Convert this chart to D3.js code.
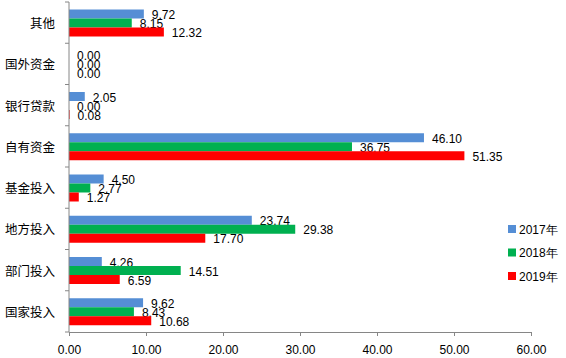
<!DOCTYPE html>
<html><head><meta charset="utf-8">
<script src="https://cdn.jsdelivr.net/npm/d3@7"></script>
<style>body{margin:0;background:#fff}svg{display:block}</style>
</head><body>
<script>
const categories = ["其他","国外资金","银行贷款","自有资金","基金投入","地方投入","部门投入","国家投入"];
const seriesNames = ["2017年","2018年","2019年"];
const values2017 = [9.72,0.00,2.05,46.10,4.50,23.74,4.26,9.62];
const values2018 = [8.15,0.00,0.00,36.75,2.77,29.38,14.51,8.43];
const values2019 = [12.32,0.00,0.08,51.35,1.27,17.70,6.59,10.68];
const xTicks = [0,10,20,30,40,50,60];
const colors = ["#558ED5","#00B050","#FF0000"];

const seriesValues = [values2017, values2018, values2019];
const W = 566, H = 358;
const svg = d3.select("body").append("svg").attr("width", W).attr("height", H);

const x = d3.scaleLinear().domain([0,60]).range([69,531]);
const y = d3.scaleBand().domain(categories).range([2,332]).paddingInner(0).paddingOuter(0);
const yi = d3.scaleBand().domain(seriesNames).range([7.5,34.5]);

const font = "'Liberation Sans', Arial, sans-serif";
const cjk = "'Noto Sans CJK SC', sans-serif";

const groups = svg.append("g").selectAll("g").data(categories).join("g")
  .attr("transform", d => `translate(0,${y(d)})`);

groups.each(function(cat, ci) {
  const g = d3.select(this);
  seriesNames.forEach((s, si) => {
    const v = seriesValues[si][ci];
    g.append("rect")
      .attr("x", x(0)).attr("y", yi(s))
      .attr("width", x(v) - x(0)).attr("height", yi.bandwidth())
      .attr("fill", colors[si]);
    g.append("text")
      .attr("x", x(v) + 8).attr("y", yi(s) + yi.bandwidth()/2 + 1)
      .attr("dominant-baseline", "central")
      .attr("font-family", font).attr("font-size", 12).attr("fill", "#000")
      .text(v.toFixed(2));
  });
});

// y axis
const yAxisG = svg.append("g").attr("transform", `translate(${x(0)},0)`);
yAxisG.append("line").attr("x1",0).attr("x2",0).attr("y1",y.range()[0]).attr("y2",y.range()[1])
  .attr("stroke","#868686");
const yBounds = categories.map(c => y(c)).concat([y.range()[1]]);
yAxisG.selectAll("line.tk").data(yBounds).join("line").attr("class","tk")
  .attr("x1",-4).attr("x2",0).attr("y1",d=>d).attr("y2",d=>d).attr("stroke","#868686");
yAxisG.selectAll("text").data(categories).join("text")
  .attr("x",-14).attr("y", d => y(d) + y.bandwidth()/2)
  .attr("text-anchor","end").attr("dominant-baseline","central")
  .attr("font-family", cjk).attr("font-size", 12.5).attr("fill","#000")
  .text(d => d);

// x axis
const xAxis = d3.axisBottom(x).tickValues(xTicks).tickSize(4).tickSizeOuter(0)
  .tickFormat(d => d.toFixed(2)).tickPadding(9);
const xg = svg.append("g").attr("transform", `translate(0,${y.range()[1]})`).call(xAxis);
xg.select(".domain").attr("stroke","#868686");
xg.selectAll(".tick line").attr("stroke","#868686");
xg.selectAll(".tick text").attr("font-family", font).attr("font-size", 12).attr("fill","#000");

// legend
const leg = svg.append("g").attr("transform","translate(508,225)");
seriesNames.forEach((s, i) => {
  const gy = i * 23.5;
  leg.append("rect").attr("x",0).attr("y",gy).attr("width",8).attr("height",8).attr("fill",colors[i]);
  leg.append("text").attr("x",11).attr("y",gy+4.5).attr("dominant-baseline","central")
    .attr("font-family", font).attr("font-size",12).attr("fill","#000")
    .text(s);
});
</script>
</body></html>
